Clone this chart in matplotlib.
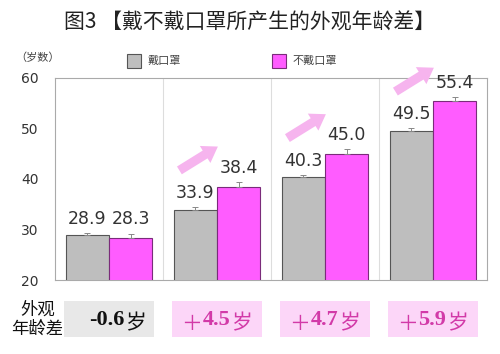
import matplotlib
matplotlib.use("Agg")
import matplotlib.pyplot as plt
import numpy as np
from matplotlib.patches import FancyArrowPatch, Rectangle
from matplotlib.transforms import blended_transform_factory

plt.rcParams["font.family"] = ["DejaVu Sans", "Noto Sans CJK SC"]

series_names = ["戴口罩", "不戴口罩"]
with_mask = [28.9, 33.9, 40.3, 49.5]
without_mask = [28.3, 38.4, 45.0, 55.4]
with_mask_err = [0.4, 0.6, 0.5, 0.6]
without_mask_err = [0.9, 0.9, 0.9, 0.9]
diff_signs = ["", "＋", "＋", "＋"]
diff_values = ["-0.6", "4.5", "4.7", "5.9"]
diff_unit = "岁"
y_ticks = [20, 30, 40, 50, 60]


def main():
    grey = "#BEBEBE"
    pink = "#FF5CFF"
    arrow_pink = "#F6B4EE"
    text_dark = "#333333"
    box_grey = "#E8E8E8"
    box_pink = "#FCD6F8"
    magenta_text = "#D23AA8"

    fig = plt.figure(figsize=(5.0, 3.54), dpi=100)
    ax = fig.add_axes([0.11, 0.209, 0.864, 0.571])

    x = np.arange(len(with_mask))
    w = 0.4
    ekw = dict(ecolor="#888888", capsize=2, elinewidth=0.7, capthick=0.7)
    ax.bar(x - w / 2, with_mask, w, color=grey, edgecolor="#555555",
           linewidth=0.8, zorder=3, yerr=[np.zeros(4), with_mask_err], error_kw=ekw)
    ax.bar(x + w / 2, without_mask, w, color=pink, edgecolor="#7A2C7A",
           linewidth=0.8, zorder=3, yerr=[np.zeros(4), without_mask_err], error_kw=ekw)

    for i in range(len(x)):
        ax.text(x[i] - w / 2, with_mask[i] + with_mask_err[i] + 1.0, f"{with_mask[i]:.1f}",
                ha="center", va="bottom", fontsize=12.5, color=text_dark, zorder=5)
        ax.text(x[i] + w / 2, without_mask[i] + without_mask_err[i] + 1.0, f"{without_mask[i]:.1f}",
                ha="center", va="bottom", fontsize=12.5, color=text_dark, zorder=5)

    # pink arrows where age gap grows
    for i in range(1, len(x)):
        base = with_mask[i]
        arr = FancyArrowPatch(
            (x[i] - 0.37, base + 7.5), (x[i] + 0.03, base + 12.8),
            arrowstyle="simple,head_length=0.9,head_width=1.2,tail_width=0.55",
            mutation_scale=12, color=arrow_pink, linewidth=0,
            clip_on=False, zorder=4,
        )
        ax.add_patch(arr)

    ax.set_xlim(-0.5, len(x) - 0.5)
    ax.set_ylim(20, 60)
    ax.set_yticks(y_ticks)
    ax.set_xticks([])
    ax.tick_params(axis="y", length=0, labelsize=10, labelcolor=text_dark, pad=12)
    for xb in x[:-1] + 0.5:
        ax.axvline(xb, color="#DDDDDD", linewidth=0.8, zorder=1)
    for s in ax.spines.values():
        s.set_color("#AAAAAA")
        s.set_linewidth(0.8)

    fig.text(0.5, 0.937, "图3 【戴不戴口罩所产生的外观年龄差】", ha="center", va="center",
             fontsize=15, family=["Noto Sans CJK SC", "DejaVu Sans"], color="#222222")

    # legend
    fig.text(0.03, 0.838, "（岁数）", ha="left", va="center", fontsize=8, color="#444444",
             family=["Noto Sans CJK SC"])
    for xs, col, ec, name in [(0.254, grey, "#555555", series_names[0]),
                              (0.544, pink, "#7A2C7A", series_names[1])]:
        fig.patches.append(Rectangle((xs, 0.808), 0.028, 0.04, transform=fig.transFigure,
                                     facecolor=col, edgecolor=ec, linewidth=0.8))
        fig.text(xs + 0.042, 0.828, name, ha="left", va="center", fontsize=8,
                 color="#444444", family=["Noto Sans CJK SC"])

    # bottom difference boxes
    fig.text(0.075, 0.098, "外观\n年龄差", ha="center", va="center", fontsize=12.5,
             linespacing=1.05, family=["Noto Sans CJK SC"], color="#111111")
    trans = blended_transform_factory(ax.transData, fig.transFigure)
    cjk = ["Noto Sans CJK SC"]
    for i in range(len(x)):
        fc = box_grey if i == 0 else box_pink
        tc = "#111111" if i == 0 else magenta_text
        ax.add_patch(Rectangle((x[i] - 0.42, 0.048), 0.84, 0.102, transform=trans,
                               facecolor=fc, edgecolor="none", clip_on=False))
        num = ax.text(x[i] - 0.02 if i == 0 else x[i] - 0.005, 0.083, diff_values[i],
                      transform=trans, ha="center", va="baseline",
                      fontsize=16, fontweight="bold", color=tc, family=["Liberation Serif"])
        ax.annotate(diff_unit, xy=(1, 0), xycoords=num, xytext=(0.3, 0),
                    textcoords="offset points", ha="left", va="baseline",
                    fontsize=15, fontweight="medium", color=tc, family=cjk)
        if diff_signs[i]:
            ax.annotate(diff_signs[i], xy=(0, 0), xycoords=num, xytext=(-0.5, 0),
                        textcoords="offset points", ha="right", va="baseline",
                        fontsize=15, color=tc, family=cjk)

    fig.savefig("out.png", dpi=100)
    plt.close(fig)


if __name__ == "__main__":
    main()
